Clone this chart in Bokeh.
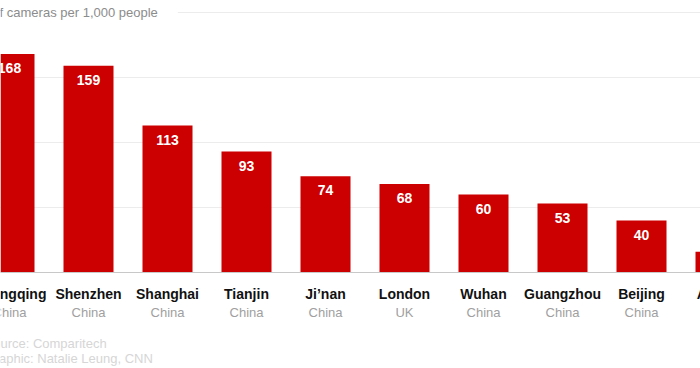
from bokeh.plotting import figure
from bokeh.models import ColumnDataSource, Span, Range1d
from bokeh.core.properties import value
from bokeh.embed import file_html
from bokeh.resources import INLINE

cities = ["Chongqing", "Shenzhen", "Shanghai", "Tianjin", "Ji\u2019nan", "London", "Wuhan", "Guangzhou", "Beijing", "Atlanta"]
countries = ["China", "China", "China", "China", "China", "UK", "China", "China", "China", "US"]
cameras = [168, 159, 113, 93, 74, 68, 60, 53, 40, 16]
grid_ticks = [50, 100, 150, 200]
axis_title = "Number of cameras per 1,000 people"
source_lines = ["Source: Comparitech", "Graphic: Natalie Leung, CNN"]

W, H = 700, 368
px_per_bar = 79.0
px_per_unit = 1.3
baseline_px = 272
first_center_px = 9

x0 = -first_center_px / px_per_bar
x1 = x0 + W / px_per_bar
y1 = baseline_px / px_per_unit
y0 = -(H - baseline_px) / px_per_unit

idx = list(range(len(cities)))
labels = [str(v) for v in cameras]
src = ColumnDataSource(dict(x=idx, top=cameras, city=cities, country=countries, label=labels,
                            zero=[0] * len(idx)))

p = figure(width=W, height=H, output_backend="svg", toolbar_location=None,
           x_range=Range1d(x0, x1), y_range=Range1d(y0, y1),
           min_border=0, outline_line_color=None)
p.axis.visible = False
p.xgrid.visible = False
p.ygrid.ticker = grid_ticks
p.ygrid.grid_line_color = "#ececec"
p.ygrid.grid_line_width = 1

p.vbar(x="x", top="top", bottom=0, width=50 / px_per_bar, source=src,
       fill_color="#cc0000", line_color=None)

p.add_layout(Span(location=0, dimension="width", line_color="#c8c8c8", line_width=1))

FONT = value("Liberation Sans")
p.text(x="x", y="top", text="label", source=src, text_font=FONT, text_font_size="14px",
       text_font_style="bold", text_color="white", text_align="center",
       text_baseline="middle", y_offset=14)
p.text(x="x", y="zero", text="city", source=src, text_font=FONT, text_font_size="14px",
       text_font_style="bold", text_color="#111111", text_align="center",
       text_baseline="middle", y_offset=21)
p.text(x="x", y="zero", text="country", source=src, text_font=FONT, text_font_size="13px",
       text_color="#a0a0a0", text_align="center", text_baseline="middle", y_offset=40)

# axis title sitting on the top gridline
p.text(x=[0], y=[grid_ticks[-1]], text=[axis_title], text_font=FONT, text_font_size="13px",
       text_color="#8c8c8c", text_align="left", text_baseline="middle", x_offset=-67,
       background_fill_color="white", padding=(0, 20, 0, 0))

# source lines
p.text(x=[0, 0], y=[0, 0], text=source_lines, text_font=FONT, text_font_size="13px",
       text_color="#d6d6d6", text_align="left", text_baseline="middle",
       x_offset=-25, y_offset=[71, 86])

open("out.html", "w").write(file_html(p, INLINE))
